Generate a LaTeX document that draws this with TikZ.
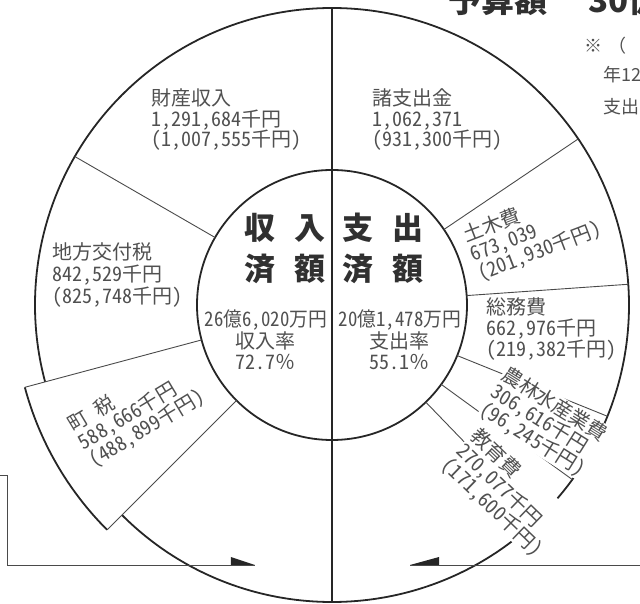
\documentclass[tikz,border=0pt]{standalone}
\usepackage{graphicx}
\usepackage{fontspec}
\setmainfont{Noto Sans CJK JP}[RawFeature=+hwid]
\newfontfamily\fw{Noto Sans CJK JP}
\definecolor{ink}{HTML}{262626}
\definecolor{thinink}{HTML}{4A4A4A}
\definecolor{txt}{HTML}{505050}
\definecolor{dark}{HTML}{303030}
\begin{document}
\begin{tikzpicture}[x=1pt,y=1pt,
  thickline/.style={draw=ink, line width=1.8pt},
  thinline/.style={draw=thinink, line width=0.9pt},
  lbl/.style={text=txt, font=\fontsize{20}{20.5}\selectfont, align=left, inner sep=0.5pt, anchor=west},
  masklbl/.style={lbl, fill=white},
  headtxt/.style={text=dark, font=\fontsize{31}{41}\selectfont\bfseries, align=left, inner sep=0pt},
  ctrtxt/.style={text=txt, font=\fontsize{20}{21.5}\selectfont, align=center, inner sep=0pt},
  notetxt/.style={text=txt, font=\fw\fontsize{18}{20}\selectfont, anchor=west, inner sep=0pt},
]
\useasboundingbox (-332,-299) rectangle (308,305);
\coordinate (C) at (0,0);

% circles and dividing lines
\draw[thickline] (225:297) arc[start angle=225, end angle=555, radius=297];
\draw[thickline] (195:318) arc[start angle=195, end angle=225, radius=318];
\draw[thickline] (C) circle[radius=135];
\draw[thickline] (90:297) -- (270:297);
\draw[thinline] (150:135) -- (150:297);
\draw[thinline] (195:135) -- (195:318);
\draw[thinline] (225:135) -- (225:318);
\foreach \a in {34,4,-22,-36,-46} \draw[thinline] (\a:135) -- (\a:297);

% arrows
\coordinate (L0) at (-332,-170);
\coordinate (L1) at (-325,-170);
\coordinate (L2) at (-325,-260);
\coordinate (L3) at (-77,-260);
\draw[thinline] (L0) -- (L1) -- (L2) -- (L3);
\fill[ink] (L3) -- ++(-24,0) -- ++(0,8) -- cycle;
\coordinate (R0) at (308,-260);
\coordinate (R1) at (78,-260);
\draw[thinline] (R0) -- (R1);
\fill[ink] (R1) -- ++(29,0) -- ++(0,8) -- cycle;

% labels
\node[lbl] (zaisan) at (-181,185) {財産収入\\1,291,684千円\\(1,007,555千円)};
\node[lbl] (shoshi) at (40,185) {諸支出金\\1,062,371\\(931,300千円)};
\node[lbl, font=\fontsize{20}{22}\selectfont] (chiho) at (-280,30) {地方交付税\\842,529千円\\(825,748千円)};
\node[lbl, font=\fontsize{20}{21}\selectfont] (somu) at (154,-24) {総務費\\662,976千円\\(219,382千円)};
\node[lbl, rotate=21] (doboku) at (139,49) {土木費\\673,039\\(201,930千円)};
\node[lbl, rotate=31] (chozei) at (-252,-140) {町　税\\588,666千円\\(488,899千円)};
\node[masklbl, rotate=-32] (norin) at (160,-85) {農林水産業費\\306,616千円\\(96,245千円)};
\node[masklbl, rotate=-44] (kyoiku) at (127,-142) {教育費\\270,077千円\\(171,600千円)};

% centre
\node[headtxt] (shunyu) at (-47,56.5) {収\hspace{19pt}入\\済\hspace{19pt}額};
\node[headtxt] (shishutsu) at (51,56.5) {支\hspace{19pt}出\\済\hspace{19pt}額};
\node[ctrtxt] (shunyuritsu) at (-66,-35) {\scalebox{0.94}[1]{26億6,020万円}\\収入率\\72.7{\fw ％}};
\node[ctrtxt] (shishutsuritsu) at (68,-35) {\scalebox{0.94}[1]{20億1,478万円}\\支出率\\55.1{\fw ％}};

% title and note (cut by the page edge)
\node[anchor=base west, font=\fw\fontsize{33}{33}\selectfont\bfseries, text=dark, inner sep=0pt] (title) at (116,292) {予算額\hspace{41pt}30億};
\node[notetxt] (note1) at (252,259) {※\hspace{6pt}（};
\node[notetxt] (note2) at (271,230) {年12};
\node[notetxt] (note3) at (271,198) {支出};
\end{tikzpicture}
\end{document}
